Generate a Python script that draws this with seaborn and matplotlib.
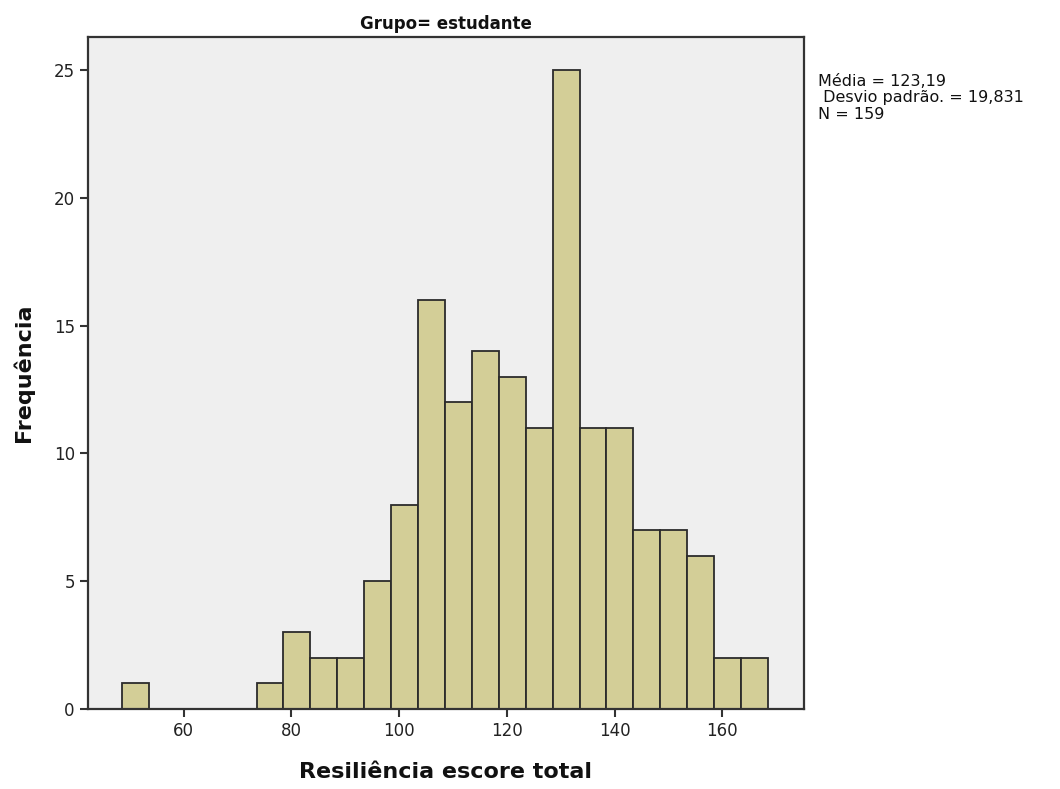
import numpy as np
import pandas as pd
import matplotlib
matplotlib.use("Agg")
import matplotlib.pyplot as plt
import seaborn as sns

# Data (bin width 5)
bin_edges = [48.5, 53.5, 58.5, 63.5, 68.5, 73.5, 78.5, 83.5, 88.5, 93.5, 98.5,
             103.5, 108.5, 113.5, 118.5, 123.5, 128.5, 133.5, 138.5, 143.5,
             148.5, 153.5, 158.5, 163.5, 168.5]
counts = [1, 0, 0, 0, 0, 1, 3, 2, 2, 5, 8, 16, 12, 14, 13, 11, 25, 11, 11, 7, 7, 6, 2, 2]
x_ticks = [60, 80, 100, 120, 140, 160]
y_ticks = [0, 5, 10, 15, 20, 25]
title = "Grupo= estudante"
x_label = "Resiliência escore total"
y_label = "Frequência"
stats_text = "Média = 123,19\n Desvio padrão. = 19,831\nN = 159"

centers = [(bin_edges[i] + bin_edges[i + 1]) / 2 for i in range(len(counts))]
df = pd.DataFrame({"score": centers, "freq": counts})

sns.set_style("white")
plt.rcParams['font.family'] = ['DejaVu Sans']

fig = plt.figure(figsize=(10.6, 7.89), dpi=100)
ax = fig.add_axes([88 / 1060, 1 - 709 / 789, (804 - 88) / 1060, (709 - 37) / 789])
ax.set_facecolor("#EFEFEF")

sns.histplot(data=df, x="score", weights="freq", bins=bin_edges, ax=ax,
             color="#D3CE97", alpha=1.0, edgecolor="#2b2b2b", linewidth=1.3)

ax.set_xlim(42.2, 175.2)
ax.set_ylim(0, 26.3)
ax.set_xticks(x_ticks)
ax.set_yticks(y_ticks)
ax.tick_params(axis="both", direction="out", length=6, width=1.5, color="#333333",
               labelsize=12, labelcolor="#222222", bottom=True, left=True)
for s in ax.spines.values():
    s.set_visible(True)
    s.set_color("#333333")
    s.set_linewidth(1.6)

ax.set_xlabel(x_label, fontsize=16, fontweight="bold", labelpad=16, color="#111111")
ax.set_ylabel(y_label, fontsize=16, fontweight="bold", labelpad=14, color="#111111")
ax.set_title(title, fontsize=12, fontweight="bold", pad=6, color="#111111")

fig.text(818 / 1060, 1 - 74 / 789, stats_text, fontsize=11.5, va="top", ha="left",
         linespacing=1.12, color="#111111")

fig.savefig("out.png", dpi=100)
